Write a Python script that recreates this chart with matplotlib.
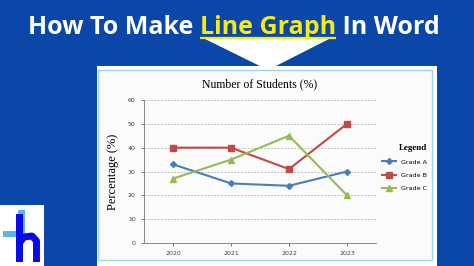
import matplotlib.pyplot as plt
from matplotlib.patches import Rectangle, Polygon

years = ['2020', '2021', '2022', '2023']
grade_a = [33, 25, 24, 30]
grade_b = [40, 40, 31, 50]
grade_c = [27, 35, 45, 20]
y_ticks = [0, 10, 20, 30, 40, 50, 60]

W, H = 474, 266
BG = '#0a47a8'

fig = plt.figure(figsize=(W / 100, H / 100), dpi=100)
fig.patch.set_facecolor(BG)

# background layer in pixel coordinates (y downwards)
bg = fig.add_axes([0, 0, 1, 1])
bg.set_xlim(0, W)
bg.set_ylim(H, 0)
bg.axis('off')

bg.add_patch(Rectangle((97, 66), 340, 200, facecolor='white', edgecolor='none'))
bg.add_patch(Rectangle((98.5, 70), 333.5, 190, facecolor='#fbfbfb', edgecolor='#9fd3e6', lw=1))
bg.add_patch(Polygon([(203, 38), (331, 38), (268, 70)], closed=True, facecolor='white', edgecolor='none'))

# header text in three pieces
fig.canvas.draw()
r = fig.canvas.get_renderer()
parts = [('How To Make ', 'white'), ('Line Graph', '#f5ea14'), (' In Word', 'white')]
x = 28
for txt, col in parts:
    t = fig.text(x / W, 1 - 27 / H, txt, color=col, fontsize=18, fontweight='bold',
                 family='Open Sans', va='center', ha='left')
    bb = t.get_window_extent(renderer=r)
    if col != 'white':
        bg.plot([x, x + bb.width], [38, 38], color=col, lw=1.6, solid_capstyle='butt')
    x += bb.width

# logo
bg.add_patch(Rectangle((0, 205), 44, 61, facecolor='white', edgecolor='none'))
bg.add_patch(Rectangle((3, 231), 20, 6, facecolor='#5bb8e6', edgecolor='none'))
bg.add_patch(Rectangle((18, 210), 7, 24, facecolor='#5bb8e6', edgecolor='none'))
bg.add_patch(Rectangle((16, 214), 7, 48, facecolor='#0b0bea', edgecolor='none'))
bg.plot([19.5, 24, 32, 36.5, 36.5], [243, 237, 236, 241, 262], color='#0b0bea', lw=5,
        solid_joinstyle='round', solid_capstyle='butt')

# chart
ax = fig.add_axes([144 / W, 1 - 243 / H, 232 / W, 143 / H])
ax.set_facecolor('#fbfbfb')
xs = range(len(years))
ax.plot(xs, grade_a, color='#4a7ebb', lw=1.5, marker='D', ms=3, label='Grade A')
ax.plot(xs, grade_b, color='#be4b48', lw=1.5, marker='s', ms=4, label='Grade B')
ax.plot(xs, grade_c, color='#98b954', lw=1.5, marker='^', ms=4, label='Grade C')

ax.set_xlim(-0.5, 3.5)
ax.set_ylim(0, 60)
ax.set_xticks(list(xs))
ax.set_xticklabels(years)
ax.set_yticks(y_ticks)
ax.tick_params(labelsize=4.5, colors='#404040', length=2, width=0.5, pad=4)
ax.grid(axis='y', color='#b0b0b0', ls=(0, (2, 2)), lw=0.6)
for s in ['top', 'right']:
    ax.spines[s].set_visible(False)
for s in ['left', 'bottom']:
    ax.spines[s].set_color('#888888')
    ax.spines[s].set_linewidth(0.7)

ax.set_title('Number of Students (%)', family='Liberation Serif', fontsize=8.5, pad=9)
ax.set_ylabel('Percentage (%)', family='Liberation Serif', fontsize=9, labelpad=6)

leg = ax.legend(loc='center left', bbox_to_anchor=(1.0, 0.53), frameon=False,
                fontsize=4.6, title='Legend', handlelength=2.2, labelspacing=1.2,
                title_fontproperties={'family': 'Liberation Serif', 'weight': 'bold', 'size': 6.5})
leg._legend_box.align = 'right'

fig.savefig('out.png', dpi=100, facecolor=BG)
